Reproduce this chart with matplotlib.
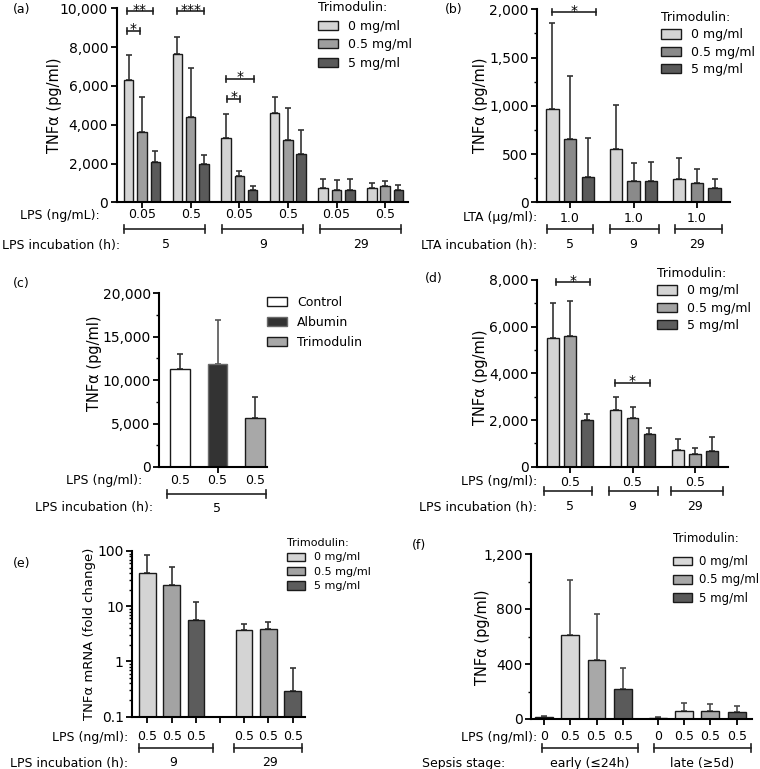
import numpy as np
import matplotlib
matplotlib.use('Agg')
import matplotlib.pyplot as plt
from matplotlib import transforms
from matplotlib.patches import Patch
from matplotlib.ticker import FuncFormatter, MultipleLocator, LogLocator, NullFormatter

W, H = 760, 769

# ---- data ----
doses = ['0 mg/ml', '0.5 mg/ml', '5 mg/ml']

a_lps = ['0.05', '0.5', '0.05', '0.5', '0.05', '0.5']
a_inc = ['5', '9', '29']
a_mean = [[6290, 7620, 3330, 4600, 750, 720],
          [3620, 4400, 1380, 3210, 630, 840],
          [2100, 1950, 640, 2470, 650, 630]]
a_top = [[7590, 8500, 4550, 5450, 1220, 1010],
         [5430, 6900, 1600, 4870, 1130, 1080],
         [2620, 2450, 830, 3750, 1180, 890]]

b_lta = ['1.0', '1.0', '1.0']
b_inc = ['5', '9', '29']
b_mean = [[970, 550, 245], [656, 221, 200], [259, 218, 152]]
b_top = [[1860, 1005, 456], [1313, 404, 349], [663, 421, 245]]

c_names = ['Control', 'Albumin', 'Trimodulin']
c_lps = ['0.5', '0.5', '0.5']
c_mean = [11300, 11850, 5600]
c_top = [13000, 16900, 8100]

d_lps = ['0.5', '0.5', '0.5']
d_inc = ['5', '9', '29']
d_mean = [[5500, 2410, 710], [5610, 2070, 540], [1990, 1390, 660]]
d_top = [[7000, 3000, 1190], [7100, 2540, 810], [2270, 1670, 1290]]

e_lps = ['0.5', '0.5', '0.5', '0.5', '0.5', '0.5']
e_inc = ['9', '29']
e_mean = [39.5, 24.3, 5.66, 3.73, 3.89, 0.29]
e_top = [83.5, 52, 11.8, 4.8, 5.1, 0.76]

f_lps = ['0', '0.5', '0.5', '0.5', '0', '0.5', '0.5', '0.5']
f_stage = ['early (\u226424h)', 'late (\u22655d)']
f_mean = [15, 611, 429, 216, 10, 58, 58, 48]
f_top = [22, 1011, 761, 373, 17, 119, 112, 97]

plt.rcParams['font.family'] = ['DejaVu Sans']
plt.rcParams['font.size'] = 10

fig = plt.figure(figsize=(W / 100, H / 100), dpi=100)


def fy(y):
    return 1 - y / H


def axes_px(x0, y0, x1, y1):
    ax = fig.add_axes([x0 / W, 1 - y1 / H, (x1 - x0) / W, (y1 - y0) / H])
    for s in ['top', 'right']:
        ax.spines[s].set_visible(False)
    for s in ['left', 'bottom']:
        ax.spines[s].set_linewidth(1.5)
    ax.tick_params(which='major', direction='out', length=4, width=1.3, labelsize=10, pad=2)
    ax.tick_params(which='minor', direction='out', length=2.5, width=1)
    ax.tick_params(axis='x', labelbottom=False)
    return ax


def bars(ax, x, mean, top, fc, ec='#1a1a1a', width=0.2, ecol='#333333'):
    x = np.asarray(x, float)
    mean = np.asarray(mean, float)
    top = np.asarray(top, float)
    ax.bar(x, mean, width, color=fc, edgecolor=ec, linewidth=1.0, zorder=2)
    ax.errorbar(x, mean, yerr=[np.zeros_like(mean), top - mean], fmt='none',
                ecolor=ecol, elinewidth=1.2, capsize=2.2, capthick=1.2, zorder=1)


def blend(ax):
    return transforms.blended_transform_factory(ax.transData, fig.transFigure)


def row_text(ax, xs, labels, ypx, size=9):
    for x, s in zip(xs, labels):
        ax.text(x, fy(ypx), s, transform=blend(ax), ha='center', va='center', fontsize=size)


def span(ax, x1, x2, ypx):
    tr = blend(ax)
    ax.plot([x1, x2], [fy(ypx)] * 2, transform=tr, color='#222222', lw=1.2, clip_on=False)
    for x in (x1, x2):
        ax.plot([x, x], [fy(ypx - 4), fy(ypx + 4)], transform=tr, color='#222222',
                lw=1.2, clip_on=False)


def sig(ax, x1, x2, y, dy, s):
    ax.plot([x1, x2], [y, y], color='#222222', lw=1.2, clip_on=False)
    for x in (x1, x2):
        ax.plot([x, x], [y - dy, y + dy], color='#222222', lw=1.2, clip_on=False)
    ax.annotate(s, ((x1 + x2) / 2, y), xytext=(0, -2.5), textcoords='offset pixels',
                ha='center', va='baseline', fontsize=10)


def legend(ax, handles, labels, xpx, ypx, size=9, title='Trimodulin:', spacing=0.35):
    lg = ax.legend(handles, labels, title=title, loc='upper left',
                   bbox_to_anchor=(xpx / W, fy(ypx)), bbox_transform=fig.transFigure,
                   frameon=False, fontsize=size, title_fontsize=size, handlelength=1.6,
                   handleheight=0.75, handletextpad=0.8, labelspacing=spacing,
                   borderpad=0, borderaxespad=0, alignment='left')
    return lg


def label(xpx, ypx, s, size=9, ha='right'):
    fig.text(xpx / W, fy(ypx), s, ha=ha, va='center', fontsize=size)


def ylab(xpx, ypx, s, size=10.5):
    fig.text(xpx / W, fy(ypx), s, rotation=90, ha='center', va='center', fontsize=size)


comma = FuncFormatter(lambda v, p: '{:,.0f}'.format(v))

# ---------------- (a) ----------------
ax = axes_px(116.5, 8.3, 408, 202.3)
cols = ['#d4d4d4', '#9e9e9e', '#5a5a5a']
g = np.arange(6)
off = [-0.274, 0, 0.274]
for k in range(3):
    bars(ax, g + off[k], a_mean[k], a_top[k], cols[k], width=0.195)
dy = 3 * 10000 / 194
sig(ax, -0.31, -0.04, 8840, dy, '*')
sig(ax, -0.31, 0.226, 9840, dy, '**')
sig(ax, 0.72, 1.276, 9840, dy, '***')
sig(ax, 1.75, 2.02, 5330, dy, '*')
sig(ax, 1.73, 2.30, 6360, dy, '*')
ax.set_ylim(0, 10000)
ax.set_xlim(-0.525, 5.47)
ax.set_yticks(np.arange(0, 10001, 2000))
ax.yaxis.set_major_formatter(comma)
ax.set_xticks(g)
row_text(ax, g, a_lps, 215)
for (x1, x2) in [(-0.37, 1.3), (1.65, 3.31), (3.66, 5.33)]:
    span(ax, x1, x2, 229)
row_text(ax, [0.5, 2.5, 4.5], a_inc, 245)
label(100, 215, 'LPS (ng/mL):')
label(120, 245, 'LPS incubation (h):')
ylab(55, 105, 'TNF\u03b1 (pg/ml)')
label(13, 9, '(a)', size=9, ha='left')
hs = [Patch(facecolor=c, edgecolor='#1a1a1a', lw=1.0) for c in cols]
legend(ax, hs, doses, 318, 1, size=9, spacing=0.45)

# ---------------- (b) ----------------
ax = axes_px(537, 9.3, 730, 202.3)
cols_b = ['#d4d4d4', '#8a8a8a', '#5a5a5a']
g = np.arange(3)
off = [-0.276, 0, 0.276]
for k in range(3):
    bars(ax, g + off[k], b_mean[k], b_top[k], cols_b[k], width=0.19)
sig(ax, -0.28, 0.41, 1970, 3 * 2000 / 193, '*')
ax.set_ylim(0, 2000)
ax.set_xlim(-0.52, 2.52)
ax.set_yticks(np.arange(0, 2001, 500))
ax.yaxis.set_minor_locator(MultipleLocator(250))
ax.yaxis.set_major_formatter(comma)
ax.set_xticks(g)
row_text(ax, g, b_lta, 218)
for (x1, x2) in [(-0.36, 0.36), (0.63, 1.40), (1.65, 2.39)]:
    span(ax, x1, x2, 229)
row_text(ax, g, b_inc, 245)
label(537, 218, 'LTA (\u03bcg/ml):')
label(537, 245, 'LTA incubation (h):')
ylab(480, 105, 'TNF\u03b1 (pg/ml)')
label(445, 9, '(b)', size=9, ha='left')
hs = [Patch(facecolor=c, edgecolor='#1a1a1a', lw=1.0) for c in cols_b]
legend(ax, hs, doses, 661, 11, size=9)

# ---------------- (c) ----------------
ax = axes_px(159, 293, 267, 467)
g = np.arange(3)
c_fc = ['#ffffff', '#333333', '#a8a8a8']
c_ec = ['#1a1a1a', '#6a6a6a', '#1a1a1a']
c_err = ['#333333', '#555555', '#333333']
for k in range(3):
    bars(ax, [g[k]], [c_mean[k]], [c_top[k]], c_fc[k], ec=c_ec[k], width=0.51, ecol=c_err[k])
ax.set_ylim(0, 20000)
ax.set_xlim(-0.56, 2.32)
ax.set_yticks(np.arange(0, 20001, 5000))
ax.yaxis.set_minor_locator(MultipleLocator(2500))
ax.yaxis.set_major_formatter(comma)
ax.set_xticks([1])
row_text(ax, g, c_lps, 480)
span(ax, -0.35, 2.29, 494)
row_text(ax, [1], ['5'], 508)
label(142, 480, 'LPS (ng/ml):')
label(153, 508, 'LPS incubation (h):')
ylab(95, 363, 'TNF\u03b1 (pg/ml)')
label(13, 283, '(c)', size=9, ha='left')
hs = [Patch(facecolor=c_fc[k], edgecolor=c_ec[k], lw=1.0) for k in range(3)]
ax.legend(hs, c_names, loc='upper left', bbox_to_anchor=(267 / W, fy(296)),
          bbox_transform=fig.transFigure, frameon=False, fontsize=9,
          handlelength=1.6, handleheight=0.75, handletextpad=0.8,
          labelspacing=0.55, borderpad=0, borderaxespad=0)

# ---------------- (d) ----------------
ax = axes_px(537, 280, 728, 466.7)
cols_d = ['#d4d4d4', '#a3a3a3', '#5c5c5c']
g = np.arange(3)
off = [-0.272, 0, 0.272]
for k in range(3):
    bars(ax, g + off[k], d_mean[k], d_top[k], cols_d[k], width=0.19)
dy = 3 * 8000 / 187
sig(ax, -0.22, 0.32, 7900, dy, '*')
sig(ax, 0.72, 1.28, 3590, dy, '*')
ax.set_ylim(0, 8000)
ax.set_xlim(-0.53, 2.53)
ax.set_yticks(np.arange(0, 8001, 2000))
ax.yaxis.set_minor_locator(MultipleLocator(1000))
ax.yaxis.set_major_formatter(comma)
ax.set_xticks(g)
row_text(ax, g, d_lps, 482)
for (x1, x2) in [(-0.42, 0.35), (0.62, 1.41), (1.62, 2.45)]:
    span(ax, x1, x2, 491)
row_text(ax, g, d_inc, 507)
label(537, 482, 'LPS (ng/ml):')
label(537, 507, 'LPS incubation (h):')
ylab(480, 377, 'TNF\u03b1 (pg/ml)')
label(425, 278, '(d)', size=9, ha='left')
hs = [Patch(facecolor=c, edgecolor='#1a1a1a', lw=1.0) for c in cols_d]
legend(ax, hs, doses, 657, 267, size=9)

# ---------------- (e) ----------------
ax = axes_px(132, 551, 305, 716.7)
ax.set_yscale('log')
cols_e = ['#d4d4d4', '#a3a3a3', '#5c5c5c']
xe = [0, 1, 2, 4, 5, 6]
for i in range(6):
    bars(ax, [xe[i]], [e_mean[i]], [e_top[i]], cols_e[i % 3], width=0.68)
ax.set_ylim(0.1, 100)
ax.set_xlim(-0.64, 6.51)
ax.set_yticks([0.1, 1, 10, 100])
ax.set_yticklabels(['0.1', '1', '10', '100'])
ax.yaxis.set_minor_locator(LogLocator(base=10, subs=np.arange(2, 10)))
ax.yaxis.set_minor_formatter(NullFormatter())
ax.set_xticks(np.arange(7))
row_text(ax, xe, e_lps, 737)
span(ax, -0.35, 2.7, 748)
span(ax, 3.57, 6.38, 748)
row_text(ax, [1.05, 5.06], e_inc, 763)
label(128, 737, 'LPS (ng/ml):')
label(128, 763, 'LPS incubation (h):')
ylab(89, 634, 'TNF\u03b1 mRNA (fold change)', size=9.5)
label(13, 563, '(e)', size=9, ha='left')
hs = [Patch(facecolor=c, edgecolor='#1a1a1a', lw=1.0) for c in cols_e]
legend(ax, hs, doses, 287, 538, size=8, spacing=0.4)

# ---------------- (f) ----------------
ax = axes_px(531, 554, 752, 719)
cols_f = ['#d8d8d8', '#d8d8d8', '#a8a8a8', '#5a5a5a']
xf = [0, 1, 2, 3, 4.33, 5.33, 6.33, 7.33]
for i in range(8):
    bars(ax, [xf[i]], [f_mean[i]], [f_top[i]], cols_f[i % 4], width=0.68, ecol='#4a4a4a')
ax.set_ylim(0, 1200)
ax.set_xlim(-0.49, 7.91)
ax.set_yticks([0, 400, 800, 1200])
ax.yaxis.set_minor_locator(MultipleLocator(200))
ax.yaxis.set_major_formatter(comma)
ax.set_xticks(xf)
row_text(ax, xf, f_lps, 737)
span(ax, -0.08, 3.57, 748)
span(ax, 4.18, 7.87, 748)
row_text(ax, [1.75, 6.0], f_stage, 763)
label(537, 737, 'LPS (ng/ml):')
label(505, 763, 'Sepsis stage:')
ylab(483, 637, 'TNF\u03b1 (pg/ml)')
label(412, 545, '(f)', size=9, ha='left')
label(673, 539, 'Trimodulin:', size=8.5, ha='left')
hs = [Patch(facecolor=c, edgecolor='#1a1a1a', lw=1.0) for c in cols_f[1:]]
ax.legend(hs, doses, loc='upper left', bbox_to_anchor=(673 / W, fy(555)),
          bbox_transform=fig.transFigure, frameon=False, fontsize=8.5,
          handlelength=1.6, handleheight=0.75, handletextpad=0.6,
          labelspacing=0.45, borderpad=0, borderaxespad=0)

fig.savefig('out.png', dpi=100, facecolor='white')
